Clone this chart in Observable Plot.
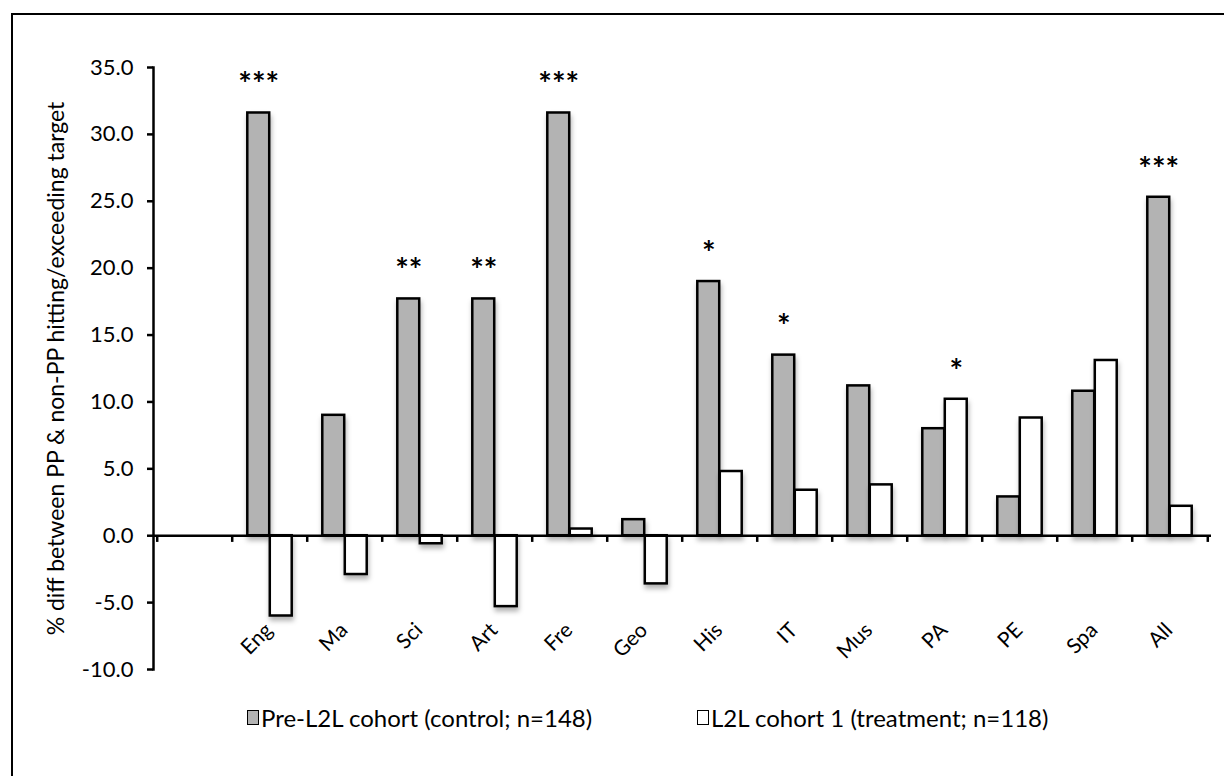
<!DOCTYPE html>
<html>
<head>
<meta charset="utf-8">
<script src="https://cdn.jsdelivr.net/npm/d3@7"></script>
<script src="https://cdn.jsdelivr.net/npm/@observablehq/plot@0.6"></script>
<style>
  html, body { margin: 0; padding: 0; background: #fff; overflow: hidden; width: 1224px; height: 776px; }
  #frame { position: absolute; left: 11px; top: 13px; width: 1400px; height: 1000px; border: 2.5px solid #000; box-sizing: border-box; }
  #chart { position: absolute; left: 0; top: 0; }
  #legend { position: absolute; left: 0; top: 703px; width: 1224px; height: 32px; font-family: Lato, sans-serif; font-size: 24px; color: #000; }
  .item { position: absolute; top: 0; display: flex; align-items: center; white-space: nowrap; }
  .sw { width: 12px; height: 15px; border: 1.5px solid #000; box-sizing: border-box; margin-right: 2px; }
</style>
</head>
<body>
<div id="frame"></div>
<div id="chart"></div>
<div id="legend">
  <div class="item" style="left:247px"><span class="sw" style="background:#b3b3b3"></span><span id="l1"></span></div>
  <div class="item" style="left:697px"><span class="sw" style="background:#fff"></span><span id="l2"></span></div>
</div>
<script>
const slots = [" ", "Eng", "Ma", "Sci", "Art", "Fre", "Geo", "His", "IT", "Mus", "PA", "PE", "Spa", "All"];
const categories = ["Eng", "Ma", "Sci", "Art", "Fre", "Geo", "His", "IT", "Mus", "PA", "PE", "Spa", "All"];
const preL2L = [31.6, 9.0, 17.7, 17.7, 31.6, 1.2, 19.0, 13.5, 11.2, 8.0, 2.9, 10.8, 25.3];
const l2lCohort1 = [-6.0, -2.9, -0.6, -5.3, 0.5, -3.6, 4.8, 3.4, 3.8, 10.2, 8.8, 13.1, 2.2];
const sigPre = ["***", "", "**", "**", "***", "", "*", "*", "", "", "", "", "***"];
const sigL2L = ["", "", "", "", "", "", "", "", "", "*", "", "", ""];
const yTicks = [-10, -5, 0, 5, 10, 15, 20, 25, 30, 35];
const seriesNames = ["Pre-L2L cohort (control; n=148)", "L2L cohort 1 (treatment; n=118)"];
const yLabel = "% diff between PP & non-PP hitting/exceeding target";

const table = categories.map((c, i) => ({subject: c, pre: preL2L[i], l2l: l2lCohort1[i], sPre: sigPre[i], sL2L: sigL2L[i]}));

const W = 1224, ML = 153, MR = 13;
const step = (W - ML - MR) / slots.length;
const barW = 22.5;
const half = step / 2;
const font = "Lato, sans-serif";

const chart = Plot.plot({
  width: W,
  height: 690,
  marginLeft: ML,
  marginRight: MR,
  marginTop: 67,
  marginBottom: 21,
  style: {fontFamily: font, color: "#000", background: "transparent"},
  x: {domain: slots, padding: 0, axis: null},
  y: {domain: [-10, 35], axis: null},
  marks: [
    Plot.barY(table, {x: "subject", y: "pre", fill: "#b3b3b3", stroke: "#000", strokeWidth: 2.5, insetLeft: half - barW, insetRight: half}),
    Plot.barY(table, {x: "subject", y: "l2l", fill: "#fff", stroke: "#000", strokeWidth: 2.5, insetLeft: half, insetRight: half - barW}),
    Plot.ruleY([0], {stroke: "#000", strokeWidth: 2.5}),
    Plot.ruleX(slots, {x: d => d, dx: -half, y1: 0, y2: -0.5, stroke: "#000", strokeWidth: 2.5}),
    Plot.ruleX([slots[slots.length - 1]], {x: d => d, dx: half, y1: 0, y2: -0.5, stroke: "#000", strokeWidth: 2.5}),
    Plot.frame({anchor: "left", stroke: "#000", strokeWidth: 2.5}),
    Plot.axisY({ticks: yTicks, tickFormat: d => d.toFixed(1), tickSize: 6, tickPadding: 14, fontSize: 22, label: null, strokeWidth: 2.5}),
    Plot.text([yLabel], {text: d => d, frameAnchor: "left", rotate: -90, dx: -97, fontSize: 23, textAnchor: "middle", lineAnchor: "middle"}),
    Plot.text(table, {x: "subject", y: -6.8, text: "subject", rotate: -45, textAnchor: "end", lineAnchor: "middle", dx: -1, fontSize: 21}),
    Plot.text(table, {x: "subject", y: "pre", text: "sPre", dx: -barW / 2, dy: -27, fontSize: 32, fontWeight: "bold", lineAnchor: "middle"}),
    Plot.text(table, {x: "subject", y: "l2l", text: "sL2L", dx: barW / 2, dy: -27, fontSize: 32, fontWeight: "bold", lineAnchor: "middle"})
  ]
});

// drop shadow under bars
const ns = "http://www.w3.org/2000/svg";
const defs = document.createElementNS(ns, "defs");
defs.innerHTML = '<filter id="shadow" x="-50%" y="-20%" width="200%" height="140%"><feDropShadow dx="1" dy="4" stdDeviation="2.5" flood-color="#000" flood-opacity="0.3"/></filter>';
chart.insertBefore(defs, chart.firstChild);
chart.querySelectorAll('g[aria-label="bar"]').forEach(g => g.setAttribute("filter", "url(#shadow)"));

document.getElementById("chart").appendChild(chart);
document.getElementById("l1").textContent = seriesNames[0];
document.getElementById("l2").textContent = seriesNames[1];
</script>
</body>
</html>
